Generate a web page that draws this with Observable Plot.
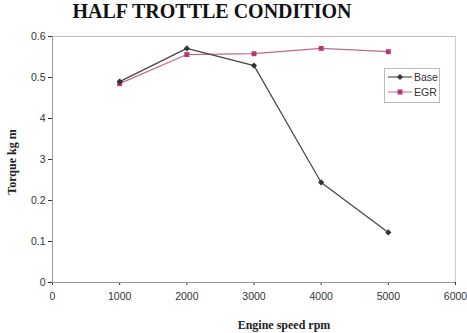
<!DOCTYPE html>
<html><head><meta charset="utf-8">
<script src="https://cdn.jsdelivr.net/npm/d3@7"></script>
<script src="https://cdn.jsdelivr.net/npm/@observablehq/plot@0.6"></script>
<style>
body{margin:0;background:#fff;}
#wrap{position:relative;width:467px;height:333px;}
#title{position:absolute;left:0;width:424px;top:0px;text-align:center;font:bold 20px "Liberation Serif","Times New Roman",serif;color:#111;}
#ylab{position:absolute;left:12px;top:162px;transform:translate(-50%,-50%) rotate(-90deg);white-space:nowrap;font:bold 12px "Liberation Serif",serif;color:#222;}
#xlab{position:absolute;left:0;width:568px;top:318px;text-align:center;font:bold 12px "Liberation Serif",serif;color:#222;}
#legend{position:absolute;left:384px;top:68px;width:54px;height:33px;border:1px solid #bbb;background:#fff;font:10.5px "Liberation Sans",Arial,sans-serif;color:#333;}
#legend div{display:flex;align-items:center;height:15.5px;padding-left:3px;}
#legend svg{margin-right:2px;}
</style></head>
<body><div id="wrap">
<div id="title">HALF TROTTLE CONDITION</div>
<div id="ylab">Torque kg m</div>
<div id="xlab">Engine speed rpm</div>
<div id="chart"></div>
<div id="legend">
<div><svg width="24" height="8"><line x1="0" y1="4" x2="24" y2="4" stroke="#333" stroke-width="1"/><path d="M12,1 L15,4 L12,7 L9,4Z" fill="#333"/></svg>Base</div>
<div><svg width="24" height="8"><line x1="0" y1="4" x2="24" y2="4" stroke="#c06a8e" stroke-width="1"/><rect x="9.5" y="1.5" width="5" height="5" fill="#b33a72"/></svg>EGR</div>
</div>
</div>
<script>
const speeds = [1000, 2000, 3000, 4000, 5000];
const baseTorque = [0.49, 0.571, 0.529, 0.244, 0.122];
const egrTorque = [0.485, 0.556, 0.558, 0.571, 0.563];
const xTicks = [0, 1000, 2000, 3000, 4000, 5000, 6000];
const yTicks = [0, 0.1, 0.2, 0.3, 0.4, 0.5, 0.6];
const yTickLabels = ["0", "0.1", "0.2", "3", "4", "0.5", "0.6"];

const base = speeds.map((s, i) => ({s, t: baseTorque[i]}));
const egr = speeds.map((s, i) => ({s, t: egrTorque[i]}));

const chart = Plot.plot({
  width: 467, height: 333,
  marginTop: 36, marginLeft: 52, marginRight: 12, marginBottom: 51,
  style: {fontFamily: "Liberation Sans, Arial, sans-serif", fontSize: "10.5px", color: "#333", background: "#fff"},
  x: {domain: [0, 6000], ticks: xTicks, tickFormat: d => String(d), label: null, tickSize: 3, tickPadding: 7},
  y: {domain: [0, 0.6], ticks: yTicks, tickFormat: (d, i) => yTickLabels[i], label: null, tickSize: 4, tickPadding: 3},
  marks: [
    Plot.ruleY([0.6], {stroke: "#bbb"}),
    Plot.ruleX([6000], {stroke: "#ccc"}),
    Plot.ruleY([0], {stroke: "#999"}),
    Plot.ruleX([0], {stroke: "#999"}),
    Plot.line(egr, {x: "s", y: "t", stroke: "#c06a8e", strokeWidth: 1.2}),
    Plot.line(base, {x: "s", y: "t", stroke: "#444", strokeWidth: 1.2}),
    Plot.dot(egr, {x: "s", y: "t", symbol: "square", r: 2.8, fill: "#b33a72"}),
    Plot.dot(base, {x: "s", y: "t", symbol: "diamond2", r: 2.8, fill: "#333"})
  ]
});
document.getElementById("chart").appendChild(chart);
</script>
</body></html>
